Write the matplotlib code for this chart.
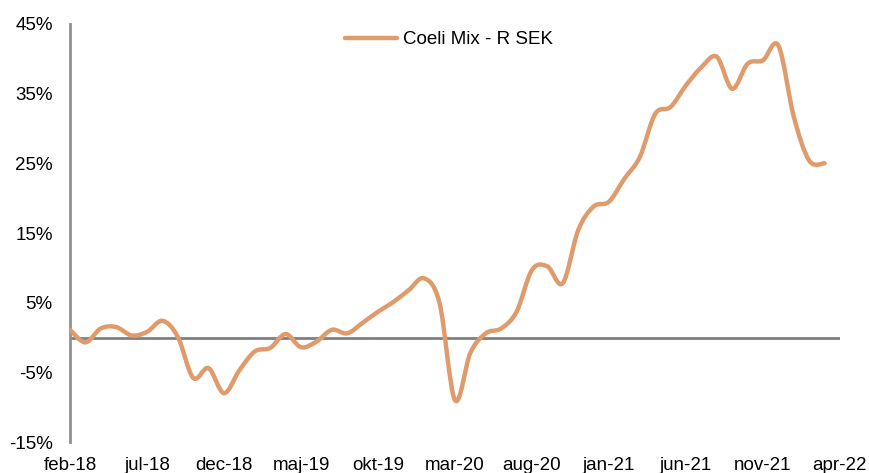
import numpy as np
import matplotlib
matplotlib.use("Agg")
import matplotlib.pyplot as plt
from matplotlib.path import Path
from matplotlib.patches import PathPatch
from matplotlib.lines import Line2D

plt.rcParams['font.family'] = ['Liberation Sans', 'DejaVu Sans']

# monthly returns, feb-18 .. mar-22 (%)
values = [1.1, -0.7, 1.3, 1.5, 0.3, 0.8, 2.4, 0.1, -5.8, -4.4,
          -8.0, -4.7, -2.0, -1.5, 0.5, -1.4, -0.6, 1.1, 0.6, 2.1,
          3.7, 5.1, 6.8, 8.5, 4.9, -9.0, -2.2, 0.6, 1.3, 3.7,
          9.7, 10.2, 7.8, 15.4, 18.8, 19.5, 22.8, 25.9, 32.1, 33.1,
          36.2, 38.8, 40.3, 35.7, 39.3, 39.8, 41.9, 31.7, 25.4, 25.0]
tick_labels = ["feb-18", "jul-18", "dec-18", "maj-19", "okt-19", "mar-20",
               "aug-20", "jan-21", "jun-21", "nov-21", "apr-22"]
series_name = "Coeli Mix - R SEK"

color = "#E09B6D"
fs = 13.5

fig = plt.figure(figsize=(8.69, 4.73), dpi=100)
ax = fig.add_axes([70/869, 1-442/473, (840-70)/869, (442-24)/473])

x = np.arange(len(values), dtype=float)
y = np.array(values, dtype=float)

# smoothed line like Excel (Catmull-Rom as cubic Bezier segments)
verts = [(x[0], y[0])]
codes = [Path.MOVETO]
n = len(x)
for i in range(n - 1):
    p0 = np.array([x[max(i-1, 0)], y[max(i-1, 0)]])
    p1 = np.array([x[i], y[i]])
    p2 = np.array([x[i+1], y[i+1]])
    p3 = np.array([x[min(i+2, n-1)], y[min(i+2, n-1)]])
    c1 = p1 + (p2 - p0) / 6
    c2 = p2 - (p3 - p1) / 6
    verts += [tuple(c1), tuple(c2), tuple(p2)]
    codes += [Path.CURVE4] * 3
patch = PathPatch(Path(verts, codes), facecolor="none", edgecolor=color,
                  lw=3.2, capstyle="round", joinstyle="round", zorder=3)
ax.add_patch(patch)

ax.axhline(0, color="#808080", lw=2, zorder=2)

ax.set_xlim(0, 50)
ax.set_ylim(-15, 45)
ax.set_yticks(np.arange(-15, 46, 10))
ax.set_yticklabels([f"{v}%" for v in range(-15, 46, 10)], fontsize=fs)
ax.set_xticks(np.arange(0, 51, 5))
ax.set_xticklabels(tick_labels, fontsize=fs)
ax.tick_params(length=0)
ax.tick_params(axis="y", pad=12.5)
ax.tick_params(axis="x", pad=11)

for s in ["top", "right", "bottom"]:
    ax.spines[s].set_visible(False)
ax.spines["left"].set_color("#909090")
ax.spines["left"].set_linewidth(2)

handle = Line2D([], [], color=color, lw=3.2, solid_capstyle="round")
ax.legend([handle], [series_name], loc="center", bbox_to_anchor=(0.492, 0.962),
          frameon=False, fontsize=fs, handlelength=2.8, handletextpad=0.3)

fig.savefig("out.png", dpi=100)
